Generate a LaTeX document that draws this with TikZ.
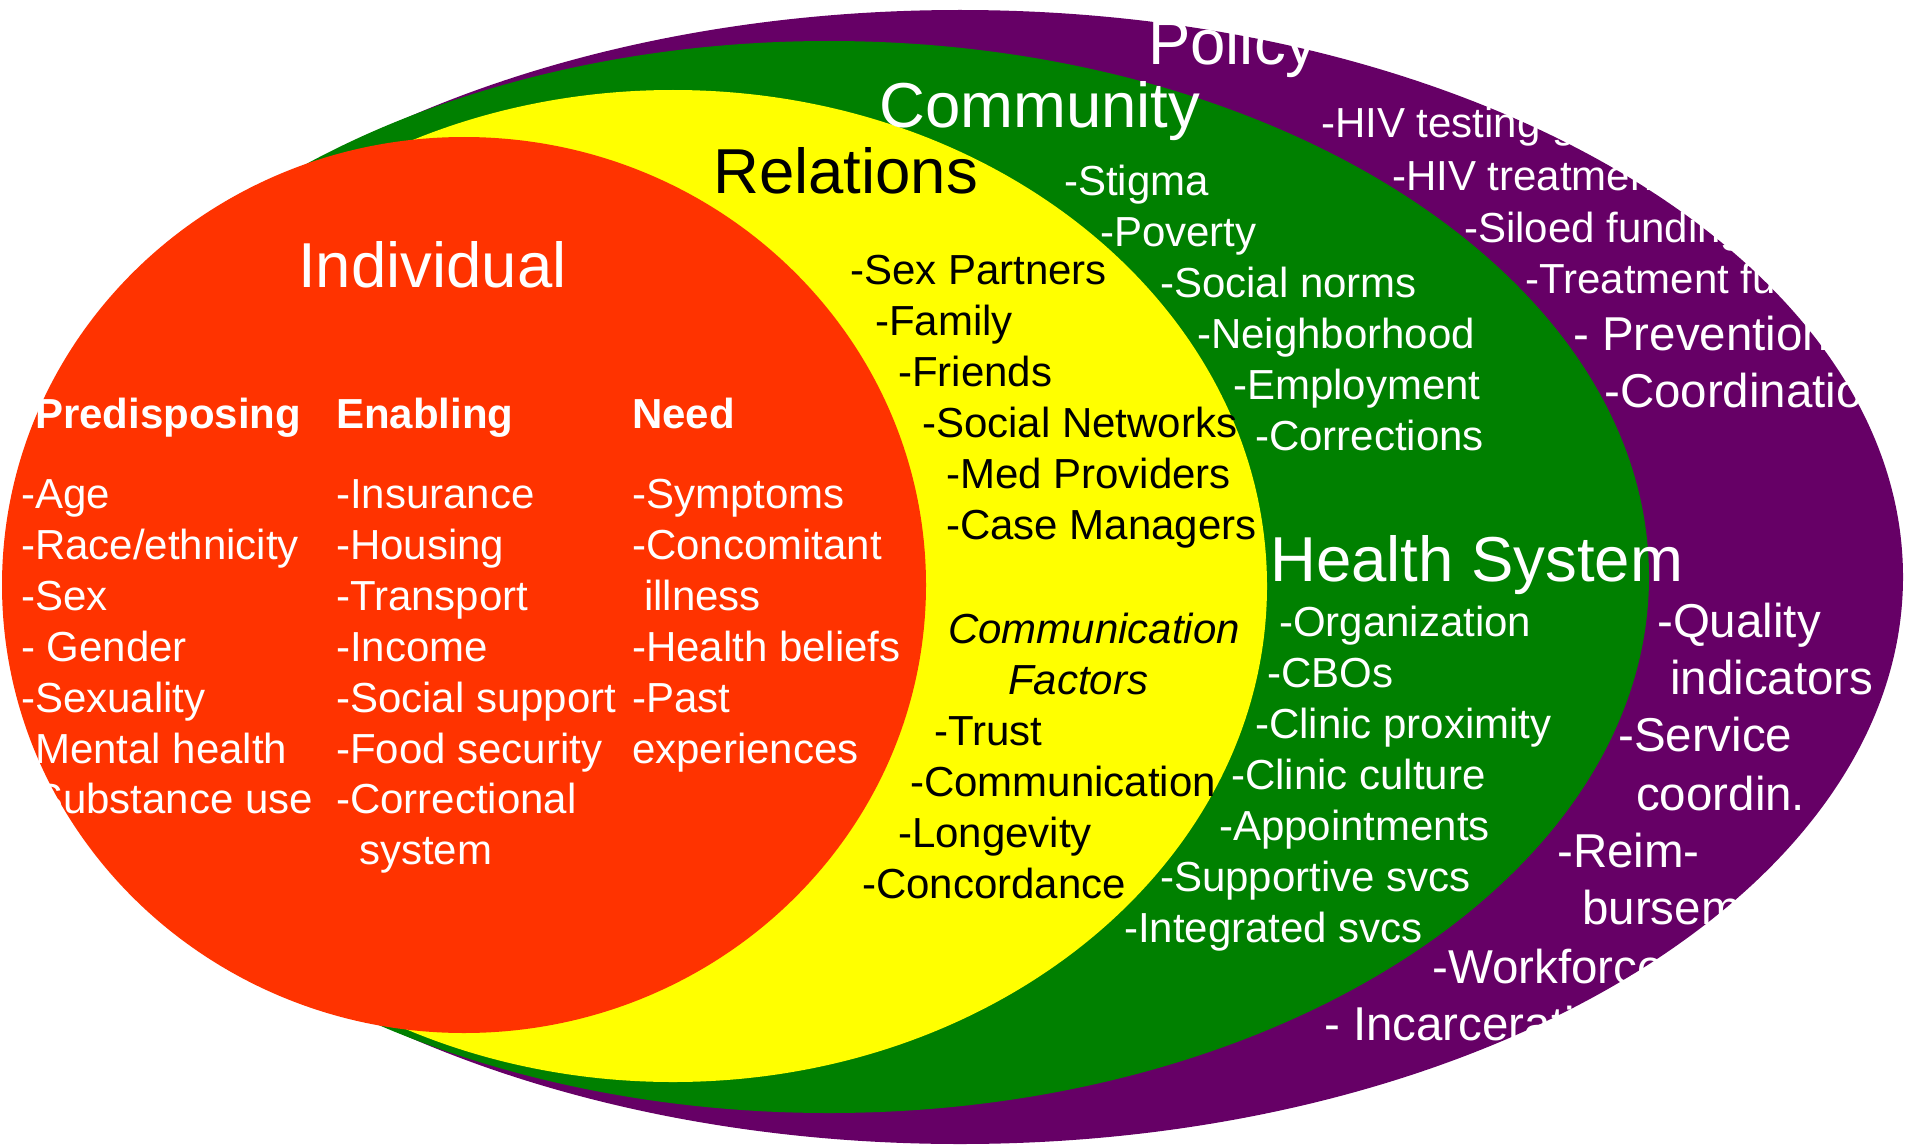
\documentclass[tikz,border=0pt]{standalone}
\usepackage{fontspec}
\setmainfont{Liberation Sans}
\usepackage{tikz}

\definecolor{policycol}{HTML}{660066}
\definecolor{communitycol}{HTML}{008000}
\definecolor{relationcol}{HTML}{FFFF00}
\definecolor{individualcol}{HTML}{FF3300}

\begin{document}
\begin{tikzpicture}[x=1pt,y=-1pt,
    itm/.style={anchor=base west, inner sep=0pt, text=white, font=\fontsize{42}{50}\selectfont},
    bitm/.style={itm, text=black},
    hdr/.style={itm, font=\fontsize{42}{50}\bfseries\selectfont},
    pitm/.style={itm, font=\fontsize{47.5}{57}\selectfont},
    ttl/.style={anchor=base west, inner sep=0pt, text=white, font=\fontsize{63.5}{76}\selectfont}]
    \fill[white] (0,0) rectangle (1905,1145);
    \useasboundingbox (0,0) rectangle (1905,1145);

    \fill[policycol] (960,577) ellipse [x radius=943, y radius=567];
    \fill[communitycol] (829,577) ellipse [x radius=820, y radius=536];
    \fill[relationcol] (673,586) ellipse [x radius=594, y radius=496];
    \fill[individualcol] (464,585) ellipse [x radius=462, y radius=448];

    % titles
    \node[ttl] (policy) at (1148,65) {Policy};
    \node[ttl] (community) at (879,128) {Community};
    \node[ttl, text=black] (relations) at (713,193) {Relations};
    \node[ttl] (individual) at (298,287) {Individual};
    \node[ttl] (healthsys) at (1270,581) {Health System};

    % individual
    \node[hdr] (predisp) at (35,428) {Predisposing};
    \node[hdr] (enabling) at (336,428) {Enabling};
    \node[hdr] (need) at (632,428) {Need};

    \node[itm] (age) at (21,508) {-Age};
    \node[itm] (race) at (21,559) {-Race/ethnicity};
    \node[itm] (sex) at (21,610) {-Sex};
    \node[itm] (gender) at (21,661) {- Gender};
    \node[itm] (sexuality) at (21,712) {-Sexuality};
    \node[itm] (mental) at (21,763) {-Mental health};
    \node[itm] (substance) at (21,813) {-Substance use};

    \node[itm] (insurance) at (336,508) {-Insurance};
    \node[itm] (housing) at (336,559) {-Housing};
    \node[itm] (transport) at (336,610) {-Transport};
    \node[itm] (income) at (336,661) {-Income};
    \node[itm] (support) at (336,712) {-Social support};
    \node[itm] (food) at (336,763) {-Food security};
    \node[itm] (correct) at (336,813) {-Correctional};
    \node[itm] (system) at (359,864) {system};

    \node[itm] (symptoms) at (632,508) {-Symptoms};
    \node[itm] (concom) at (632,559) {-Concomitant};
    \node[itm] (illness) at (644,610) {illness};
    \node[itm] (beliefs) at (632,661) {-Health beliefs};
    \node[itm] (past) at (632,712) {-Past};
    \node[itm] (exper) at (632,763) {experiences};

    % relations
    \node[bitm] (partners) at (850,284) {-Sex Partners};
    \node[bitm] (family) at (875,335) {-Family};
    \node[bitm] (friends) at (898,386) {-Friends};
    \node[bitm] (networks) at (922,437) {-Social Networks};
    \node[bitm] (medprov) at (946,488) {-Med Providers};
    \node[bitm] (casemgr) at (946,539) {-Case Managers};
    \node[bitm, font=\fontsize{42}{50}\itshape\selectfont] (commfac) at (948,643) {Communication};
    \node[bitm, font=\fontsize{42}{50}\itshape\selectfont] (factors) at (1008,694) {Factors};
    \node[bitm] (trust) at (934,745) {-Trust};
    \node[bitm] (commun) at (910,796) {-Communication};
    \node[bitm] (longev) at (898,847) {-Longevity};
    \node[bitm] (concord) at (862,898) {-Concordance};

    % community
    \node[itm] (stigma) at (1064,195) {-Stigma};
    \node[itm] (poverty) at (1100,246) {-Poverty};
    \node[itm] (norms) at (1160,297) {-Social norms};
    \node[itm] (neighb) at (1197,348) {-Neighborhood};
    \node[itm] (employ) at (1233,399) {-Employment};
    \node[itm] (correctns) at (1255,450) {-Corrections};

    % health system
    \node[itm] (organiz) at (1279,636) {-Organization};
    \node[itm] (cbos) at (1267,687) {-CBOs};
    \node[itm] (proximity) at (1255,738) {-Clinic proximity};
    \node[itm] (culture) at (1231,789) {-Clinic culture};
    \node[itm] (appoint) at (1219,840) {-Appointments};
    \node[itm] (supportive) at (1160,891) {-Supportive svcs};
    \node[itm] (integrated) at (1124,942) {-Integrated svcs};

    % policy
    \node[itm] (testing) at (1321,138) {-HIV testing guidelines};
    \node[itm] (treatment) at (1392,190) {-HIV treatment guidelines};
    \node[itm] (siloed) at (1464,242) {-Siloed funding};
    \node[itm] (treatfund) at (1525,293) {-Treatment funding};
    \node[pitm] (prevent) at (1573,350) {- Prevention};
    \node[pitm] (coordination) at (1604,407) {-Coordination};
    \node[pitm] (quality) at (1657,637) {-Quality};
    \node[pitm] (indicators) at (1670,694) {indicators};
    \node[pitm] (service) at (1618,751) {-Service};
    \node[pitm] (coordin) at (1636,810) {coordin.};
    \node[pitm] (reim) at (1557,867) {-Reim-};
    \node[pitm] (bursement) at (1582,924) {bursement};
    \node[pitm] (workforce) at (1432,983) {-Workforce};
    \node[pitm] (incarc) at (1324,1040) {- Incarceration};
\end{tikzpicture}
\end{document}
